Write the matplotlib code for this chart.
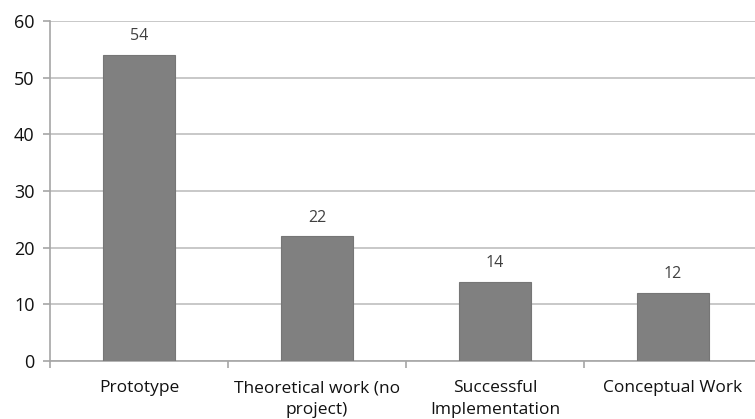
import numpy as np
import matplotlib.pyplot as plt

categories = ["Prototype", "Theoretical work (no\nproject)", "Successful\nImplementation", "Conceptual Work"]
counts = [54, 22, 14, 12]

plt.rcParams['font.family'] = ['Open Sans', 'DejaVu Sans']

fig = plt.figure(figsize=(7.55, 4.19), dpi=100)
ax = fig.add_axes([50/755, 58/419, 712/755, 340/419])

x = np.arange(len(categories))
ax.bar(x, counts, width=0.4, color='#808080', edgecolor='#767676', linewidth=0.8, zorder=3)

# value labels above each bar
for xi, v in zip(x, counts):
    ax.text(xi, v + 1.9, str(v), ha='center', va='bottom', fontsize=11.5, color='#404040')

ax.set_xlim(-0.5, len(categories) - 0.5)
ax.set_ylim(0, 60)
ax.set_yticks(range(0, 61, 10))
ax.yaxis.grid(True, color='#bfbfbf', linewidth=1.2, zorder=0)

# ticks on category boundaries, labels centred under bars
ax.set_xticks(np.arange(-0.5, len(categories), 1.0))
ax.set_xticklabels([])
ax.set_xticks(x, minor=True)
ax.set_xticklabels(categories, minor=True, fontsize=12.5, color='#111111', linespacing=1.45)
ax.tick_params(axis='x', which='minor', length=0, pad=14)
ax.tick_params(axis='x', which='major', length=5, color='#a6a6a6', width=1.2)
ax.tick_params(axis='y', length=5, color='#a6a6a6', width=1.2, labelsize=13, labelcolor='#111111', pad=6)

for side in ['top', 'right']:
    ax.spines[side].set_visible(False)
for side in ['left', 'bottom']:
    ax.spines[side].set_color('#a6a6a6')
    ax.spines[side].set_linewidth(1.2)

fig.savefig('out.png', dpi=100)
